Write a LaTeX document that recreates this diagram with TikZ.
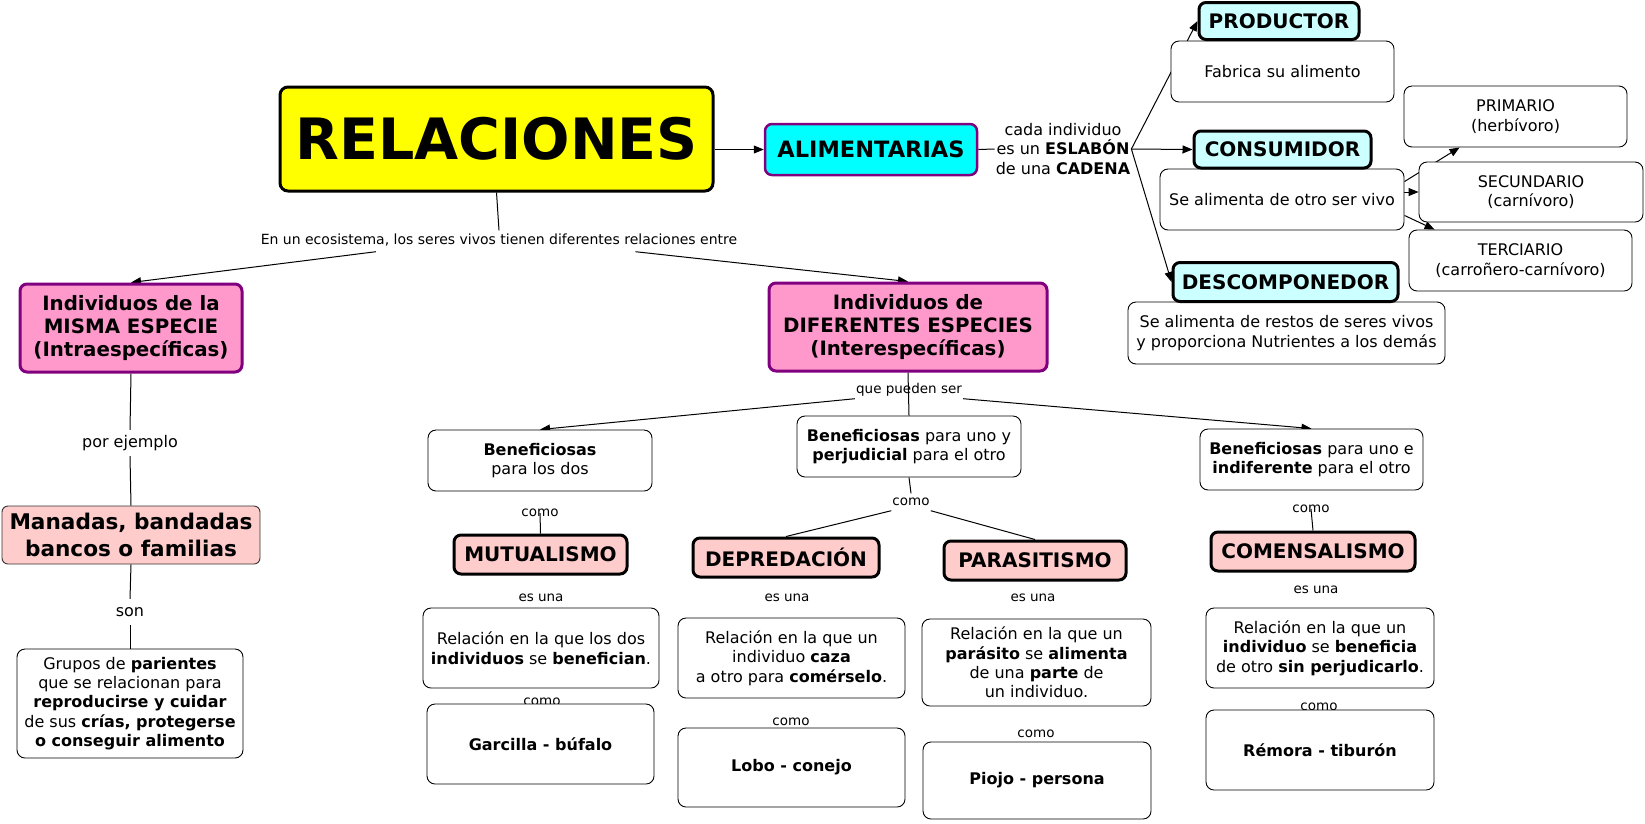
\documentclass[tikz,border=0pt]{standalone}
\usepackage{fontspec}
\setmainfont{DejaVu Sans}
\usetikzlibrary{arrows.meta,calc,backgrounds}
\definecolor{cmYellow}{HTML}{FFFF00}
\definecolor{cmCyan}{HTML}{00FFFF}
\definecolor{cmLightCyan}{HTML}{CCFFFF}
\definecolor{cmPink}{HTML}{FF99CC}
\definecolor{cmLightPink}{HTML}{FFCCCC}
\definecolor{cmPurple}{HTML}{800080}
\tikzset{
  base/.style={align=center, inner sep=0pt, text=black},
  wbox/.style={base, draw=black, line width=0.9pt, rounded corners=8pt, fill=white, font=\fontsize{16}{19.4}\selectfont},
  wbold/.style={wbox, font=\bfseries\fontsize{16}{19.4}\selectfont},
  thickbox/.style={base, draw=black, line width=3pt, rounded corners=7pt, font=\bfseries\fontsize{20}{24}\selectfont},
  cyanbox/.style={thickbox, fill=cmLightCyan},
  pinkbox/.style={thickbox, fill=cmLightPink},
  purplebox/.style={base, draw=cmPurple, line width=3pt, rounded corners=7pt, fill=cmPink, font=\bfseries\fontsize{19.8}{23}\selectfont},
  link/.style={base, inner xsep=1pt, inner ysep=2pt, text height=10pt, text depth=3pt, font=\fontsize{13.5}{16}\selectfont},
  linkL/.style={base, inner xsep=1pt, inner ysep=5pt, text height=12pt, text depth=4pt, font=\fontsize{16}{19.4}\selectfont},
  conn/.style={draw=black, line width=1pt},
  arr/.style={conn, -{Triangle[length=10pt,width=8pt]}},
}
\begin{document}
\begin{tikzpicture}[x=1pt,y=-1pt]
\useasboundingbox (0,0) rectangle (1645,823);
\begin{pgfonlayer}{background}
\fill[white] (0,0) rectangle (1645,823);
\end{pgfonlayer}

% main concepts
\node[base, draw=black, line width=3pt, rounded corners=8pt, fill=cmYellow, minimum width=433pt, minimum height=104pt, font=\bfseries\fontsize{57}{60}\selectfont] (rel) at (496.5,139) {RELACIONES};
\node[base, draw=cmPurple, line width=2.5pt, rounded corners=7pt, fill=cmCyan, minimum width=212pt, minimum height=51pt, font=\bfseries\fontsize{22.5}{26}\selectfont] (alim) at (871,149.5) {ALIMENTARIAS};
\node[base, inner sep=1pt, font=\fontsize{16}{19.4}\selectfont] (cada) at (1063,149) {cada individuo\\es un \textbf{ESLABÓN}\\de una \textbf{CADENA}};

% top right
\node[wbox, minimum width=223pt, minimum height=61pt] (fab) at (1282.5,71.5) {Fabrica su alimento};
\node[cyanbox, minimum width=160pt, minimum height=37pt] (prod) at (1279,21) {PRODUCTOR};
\node[wbox, minimum width=223pt, minimum height=61pt] (prim) at (1515.5,116.5) {PRIMARIO\\(herbívoro)};
\node[wbox, minimum width=244pt, minimum height=61pt] (sa) at (1282,199.5) {Se alimenta de otro ser vivo};
\node[cyanbox, minimum width=177pt, minimum height=37pt] (cons) at (1282.5,149.5) {CONSUMIDOR};
\node[wbox, minimum width=223pt, minimum height=61pt] (ter) at (1520.5,260.5) {TERCIARIO\\(carroñero-carnívoro)};
\node[wbox, minimum width=224pt, minimum height=60pt] (sec) at (1531,192) {SECUNDARIO\\(carnívoro)};
\node[wbox, minimum width=317pt, minimum height=62pt] (rest) at (1286.5,333) {Se alimenta de restos de seres vivos\\y proporciona Nutrientes a los demás};
\node[cyanbox, minimum width=225pt, minimum height=39pt] (desc) at (1285.5,282) {DESCOMPONEDOR};

% left branch
\node[link, inner ysep=4pt, font=\fontsize{14}{16}\selectfont] (eco) at (499,241) {En un ecosistema, los seres vivos tienen diferentes relaciones entre};
\node[purplebox, minimum width=222pt, minimum height=88pt] (misma) at (131,328) {Individuos de la\\MISMA ESPECIE\\(Intraespecíficas)};
\node[linkL] (porej) at (130,443) {por ejemplo};
\node[base, draw=black!80, line width=0.9pt, rounded corners=6pt, fill=cmLightPink, minimum width=258pt, minimum height=58pt, font=\bfseries\fontsize{21.6}{27}\selectfont] (man) at (131,535) {Manadas, bandadas\\bancos o familias};
\node[linkL] (son) at (130,612) {son};
\node[wbox, minimum width=226pt, minimum height=109pt] (grupos) at (130,703.5) {Grupos de \textbf{parientes}\\que se relacionan para\\\textbf{reproducirse y cuidar}\\de sus \textbf{crías, protegerse}\\\textbf{o conseguir alimento}};

% right-middle branch
\node[purplebox, minimum width=278pt, minimum height=88pt] (dif) at (908,327) {Individuos de\\DIFERENTES ESPECIES\\(Interespecíficas)};
\node[link] (qps) at (909,390) {que pueden ser};
\node[wbox, minimum width=224pt, minimum height=61pt] (b1) at (540,460.5) {\textbf{Beneficiosas}\\para los dos};
\node[wbox, minimum width=224pt, minimum height=61pt] (b2) at (909,446.5) {\textbf{Beneficiosas} para uno y\\\textbf{perjudicial} para el otro};
\node[wbox, minimum width=223pt, minimum height=61pt] (b3) at (1311.5,459.5) {\textbf{Beneficiosas} para uno e\\\textbf{indiferente} para el otro};

% mutualismo
\node[link] (como1) at (540,513) {como};
\node[pinkbox, minimum width=173pt, minimum height=39pt] (mut) at (540.5,554.5) {MUTUALISMO};
\node[link] (esuna1) at (541,598) {es una};
\node[wbox, minimum width=236pt, minimum height=80pt] (rmut) at (541,648) {Relación en la que los dos\\\textbf{individuos} se \textbf{benefician}.};
\node[link] (como1b) at (542,702) {como};
\node[wbold, minimum width=227pt, minimum height=80pt] (garc) at (540.5,744) {Garcilla - búfalo};

% depredacion / parasitismo
\node[link] (como2) at (911,502) {como};
\node[pinkbox, minimum width=186pt, minimum height=39pt] (dep) at (786,557.5) {DEPREDACIÓN};
\node[pinkbox, minimum width=182pt, minimum height=39pt] (par) at (1035,560.5) {PARASITISMO};
\node[link] (esuna2) at (787,598) {es una};
\node[link] (esuna3) at (1033,598) {es una};
\node[wbox, minimum width=227pt, minimum height=80pt] (rdep) at (791.5,658) {Relación en la que un\\individuo \textbf{caza}\\a otro para \textbf{comérselo}.};
\node[link] (como2b) at (791,722) {como};
\node[wbold, minimum width=227pt, minimum height=79pt] (lobo) at (791.5,767.5) {Lobo - conejo};
\node[wbox, minimum width=229pt, minimum height=87pt] (rpar) at (1036.5,662.5) {Relación en la que un\\\textbf{parásito} se \textbf{alimenta}\\de una \textbf{parte} de\\un individuo.};
\node[link] (como3b) at (1036,734) {como};
\node[wbold, minimum width=228pt, minimum height=77pt] (piojo) at (1037,780.5) {Piojo - persona};

% comensalismo
\node[link] (como3) at (1311,509) {como};
\node[pinkbox, minimum width=204pt, minimum height=39pt] (com) at (1313,551.5) {COMENSALISMO};
\node[link] (esuna4) at (1316,590) {es una};
\node[wbox, minimum width=228pt, minimum height=80pt] (rcom) at (1320,648) {Relación en la que un\\\textbf{individuo} se \textbf{beneficia}\\de otro \textbf{sin perjudicarlo}.};
\node[link] (como4b) at (1319,707) {como};
\node[wbold, minimum width=228pt, minimum height=80pt] (rem) at (1320,750) {Rémora - tiburón};

% connectors
\begin{pgfonlayer}{background}
\draw[arr] (rel.east |- alim.west) -- (alim.west);
\draw[conn] (alim.east) -- (cada.west);
\draw[arr] (cada.east) -- (prod.west);
\draw[arr] (cada.east) -- (cons.west);
\draw[arr] (cada.east) -- (desc.west);
\draw[arr] ($(sa.north east)+(0,13)$) -- ($(prim.south west)+(56,0)$);
\draw[arr] (sa.east |- sec.west) -- (sec.west);
\draw[arr] ($(sa.south east)+(0,-15)$) -- ($(ter.north west)+(26,0)$);

\draw[conn] (rel.south) -- (eco.north);
\draw[arr] ($(eco.south west)!0.243!(eco.south east)$) -- (misma.north);
\draw[arr] ($(eco.south west)!0.785!(eco.south east)$) -- (dif.north);
\draw[conn] (misma.south) -- (porej.north);
\draw[conn] (porej.south) -- (man.north);
\draw[conn] (man.south) -- (son.north);
\draw[conn] (son.south) -- (grupos.north);

\draw[conn] (dif.south) -- (b2.north);
\draw[arr] (qps.south west) -- (b1.north);
\draw[arr] (qps.south east) -- (b3.north);
\draw[conn] (como1.center) -- (mut.north);
\draw[conn] (b2.south) -- (como2.north);
\draw[conn] (como2.south west) -- (dep.north);
\draw[conn] (como2.south east) -- (par.north);
\draw[conn] (como3.center) -- (com.north);
\end{pgfonlayer}
\end{tikzpicture}
\end{document}
